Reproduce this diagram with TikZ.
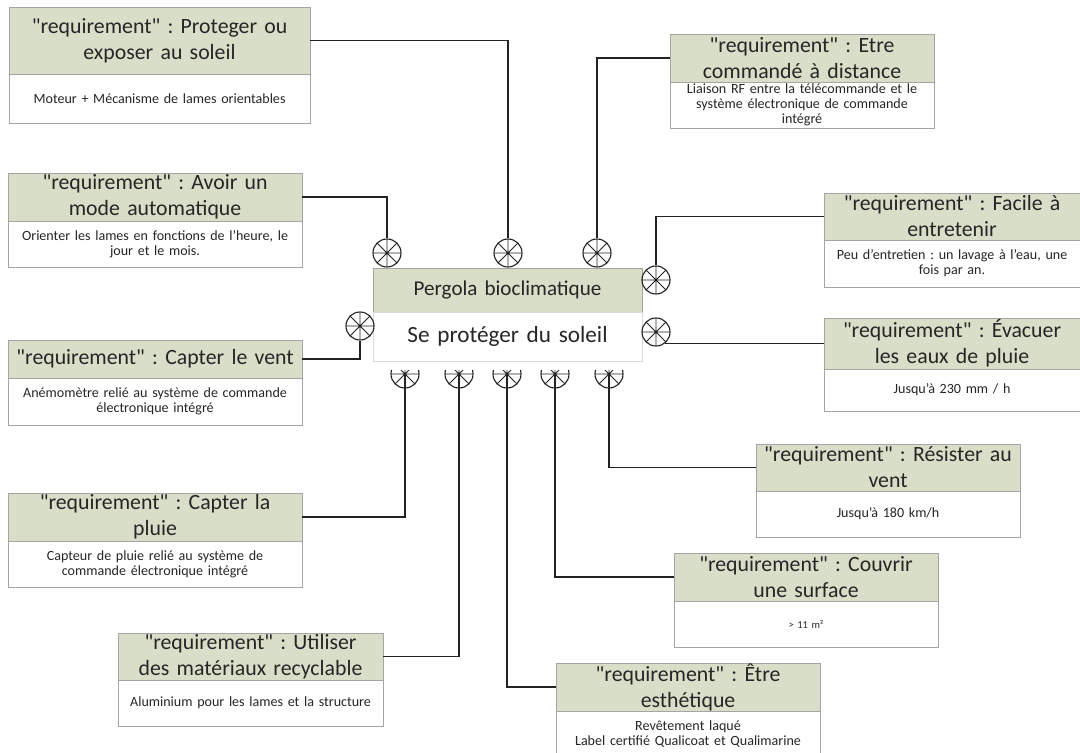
\documentclass[tikz,border=0pt]{standalone}
\usepackage{fontspec}
\setmainfont{Carlito}[Ligatures=TeXOff]
\frenchspacing
\usetikzlibrary{positioning}
\definecolor{reqgreen}{RGB}{217,222,200}
\definecolor{boxgray}{RGB}{165,165,165}
\definecolor{linegray}{RGB}{35,35,35}
\begin{document}
\begin{tikzpicture}[x=0.025cm,y=-0.025cm,
  reqhead/.style={draw=boxgray,fill=reqgreen,anchor=north west,inner sep=0pt,outer sep=0pt,
    align=center,text=black!85,font=\fontsize{15.5}{18.5}\selectfont},
  reqbody/.style={draw=boxgray,fill=white,below=0pt of #1,inner sep=0pt,outer sep=0pt,
    align=center,text=black!85,font=\fontsize{10}{10.8}\selectfont},
  port/.style={circle,draw=linegray,line width=0.8pt,minimum size=0.7cm,inner sep=0pt,
    path picture={\draw[linegray,line width=0.7pt]
      (path picture bounding box.north) -- (path picture bounding box.south)
      (path picture bounding box.east) -- (path picture bounding box.west)
      (path picture bounding box.north east) -- (path picture bounding box.south west)
      (path picture bounding box.north west) -- (path picture bounding box.south east);}},
  link/.style={draw=linegray,line width=1pt}]
\useasboundingbox (0,0) rectangle (1080,753);

% Bloc central
\node[reqhead,text width=6.725cm,minimum height=1.1cm,font=\fontsize{15}{18}\selectfont] (sys) at (373,268) {Pergola bioclimatique};
\node[reqbody=sys,draw=black!15,text width=6.725cm,minimum height=1.225cm,font=\fontsize{16.5}{20}\selectfont] (fct) {Se protéger du soleil};

% Exigences a gauche
\node[reqhead,text width=7.525cm,minimum height=1.675cm] (h1) at (9,7) {"requirement" : Proteger ou\\exposer au soleil};
\node[reqbody=h1,text width=7.525cm,minimum height=1.225cm] (b1) {Moteur + Mécanisme de lames orientables};

\node[reqhead,text width=7.35cm,minimum height=1.2cm] (h3) at (8,173) {"requirement" : Avoir un\\mode automatique};
\node[reqbody=h3,text width=7.35cm,minimum height=1.15cm] (b3) {Orienter les lames en fonctions de l’heure, le\\jour et le mois.};

\node[reqhead,text width=7.35cm,minimum height=0.95cm] (h4) at (8,340) {"requirement" : Capter le vent};
\node[reqbody=h4,text width=7.35cm,minimum height=1.175cm] (b4) {Anémomètre relié au système de commande\\électronique intégré};

\node[reqhead,text width=7.35cm,minimum height=1.2cm] (h11) at (8,493) {"requirement" : Capter la\\pluie};
\node[reqbody=h11,text width=7.35cm,minimum height=1.15cm] (b11) {Capteur de pluie relié au système de\\commande électronique intégré};

\node[reqhead,text width=6.625cm,minimum height=1.175cm] (h10) at (118,633) {"requirement" : Utiliser\\des matériaux recyclable};
\node[reqbody=h10,text width=6.625cm,minimum height=1.15cm] (b10) {Aluminium pour les lames et la structure};

% Exigences a droite
\node[reqhead,text width=6.6cm,minimum height=1.2cm] (h2) at (670,34) {"requirement" : Etre\\commandé à distance};
\node[reqbody=h2,text width=6.6cm,minimum height=1.15cm] (b2) {Liaison RF entre la télécommande et le\\système électronique de commande\\intégré};

\node[reqhead,text width=6.4cm,minimum height=1.175cm] (h5) at (824,193) {"requirement" : Facile à\\entretenir};
\node[reqbody=h5,text width=6.4cm,minimum height=1.175cm] (b5) {Peu d’entretien : un lavage à l’eau, une\\fois par an.};

\node[reqhead,text width=6.4cm,minimum height=1.275cm] (h6) at (824,318) {"requirement" : Évacuer\\les eaux de pluie};
\node[reqbody=h6,text width=6.4cm,minimum height=1.05cm] (b6) {Jusqu’à 230 mm / h};

\node[reqhead,text width=6.6cm,minimum height=1.175cm] (h7) at (756,444) {"requirement" : Résister au\\vent};
\node[reqbody=h7,text width=6.6cm,minimum height=1.15cm] (b7) {Jusqu’à 180 km/h};

\node[reqhead,text width=6.6cm,minimum height=1.2cm] (h8) at (674,553) {"requirement" : Couvrir\\une surface};
\node[reqbody=h8,text width=6.6cm,minimum height=1.15cm,font=\fontsize{7.5}{9}\selectfont] (b8) {> 11 m²};

\node[reqhead,text width=6.6cm,minimum height=1.2cm] (h9) at (556,663) {"requirement" : Être\\esthétique};
\node[reqbody=h9,text width=6.6cm,minimum height=1.15cm] (b9) {Revêtement laqué\\Label certifié Qualicoat et Qualimarine};

% Ports
\node[port] (pA) at (387,253) {};
\node[port] (pB) at (508,253) {};
\node[port] (pC) at (597,253) {};
\node[port] (pD) at (360,326) {};
\node[port] (pE) at (656,280) {};
\node[port] (pF) at (656,332) {};
\begin{scope}
\clip (370,371) rectangle (650,400);
\foreach \n/\x in {q1/405,q2/459,q3/507,q4/555,q5/609}
  \node[port] (\n) at (\x,374) {};
\end{scope}

% Liaisons
\draw[link] (h1.east) -| (pB.north);
\draw[link] (h2.west) -| (pC.north);
\draw[link] (h3.east) -| (pA.north);
\draw[link] (h4.east) -| (pD.south);
\draw[link] (h5.west) -| (pE.north);
\draw[link] (h6.west) -- (pF.-50 |- h6.west);
\draw[link] (h7.west) -| (q5.center);
\draw[link] (h8.west) -| (q4.center);
\draw[link] (h9.west) -| (q3.center);
\draw[link] (h10.east) -| (q2.center);
\draw[link] (h11.east) -| (q1.center);
\end{tikzpicture}
\end{document}
